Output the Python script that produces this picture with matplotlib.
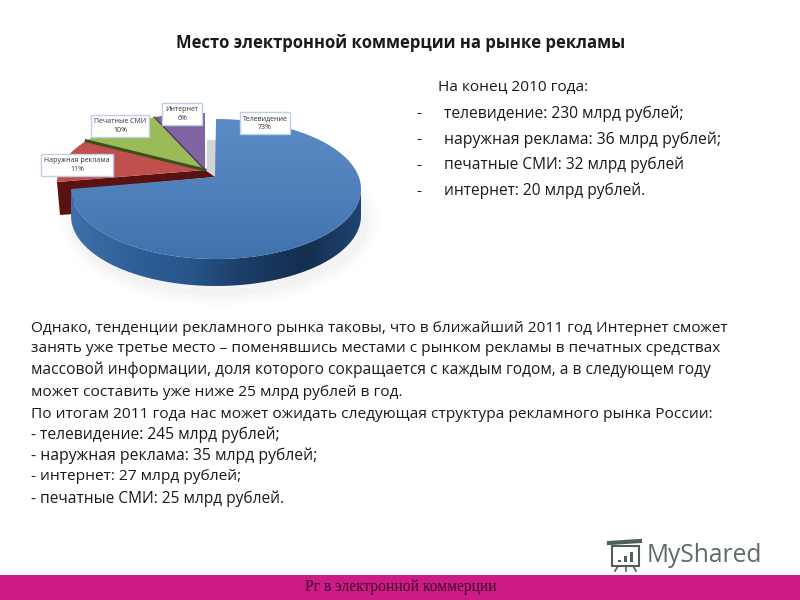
import numpy as np
import matplotlib
matplotlib.use("Agg")
from matplotlib import pyplot as plt
from matplotlib.colors import LinearSegmentedColormap
from matplotlib.patches import Polygon, Rectangle

plt.rcParams['font.family'] = ['Open Sans', 'DejaVu Sans']

# --- DATA ---
title = "Место электронной коммерции на рынке рекламы"
categories = ["Телевидение", "Наружная реклама", "Печатные СМИ", "Интернет"]
shares = [73, 11, 10, 6]
slice_tops = ['#5286c0', '#c0504d', '#9bbb59', '#8064a2']

head_line = "На конец 2010 года:"
list_lines = ["телевидение: 230 млрд рублей;",
              "наружная реклама: 36 млрд рублей;",
              "печатные СМИ: 32 млрд рублей",
              "интернет: 20 млрд рублей."]
list_y = [114, 140, 165, 191]
list_right = [684, 720, 684, 646]

body_lines = ["Однако, тенденции рекламного рынка таковы, что в ближайший 2011 год Интернет сможет",
              "занять уже третье место – поменявшись местами с рынком рекламы в печатных средствах",
              "массовой информации, доля которого сокращается с каждым годом, а в следующем году",
              "может составить уже ниже 25 млрд рублей в год.",
              "По итогам 2011 года нас может ожидать следующая структура рекламного рынка России:",
              "- телевидение: 245 млрд рублей;",
              "- наружная реклама: 35 млрд рублей;",
              "- интернет: 27 млрд рублей;",
              "- печатные СМИ: 25 млрд рублей."]
body_y = [328, 349, 370, 392, 415, 435, 456, 477, 499]
body_right = [723, 718, 709, 401, 708, 279, 315, 241, 284]

footer = "Рг в электронной коммерции"

fig = plt.figure(figsize=(8, 6), dpi=100)
ax = fig.add_axes([0, 0, 1, 1])
ax.set_xlim(0, 800)
ax.set_ylim(600, 0)
ax.axis('off')
renderer = fig.canvas.get_renderer()


def fit_text(x, y, s, right, size, **kw):
    # shrink or grow the font so the line ends where it should
    t = ax.text(x, y, s, fontsize=size, va='center', ha='left', color='#1a1a1a', **kw)
    w = t.get_window_extent(renderer).width
    t.set_fontsize(size * (right - x) / w)
    return t


def rim(cx, cy, rx, ry, t1, t2, n=80):
    t = np.radians(np.linspace(t1, t2, n))
    return np.column_stack([cx + rx * np.cos(t), cy + ry * np.sin(t)])


def gradient_fill(poly, colors, box, vertical=False):
    ax.add_patch(poly)
    grad = np.linspace(0, 1, 256).reshape(-1, 1) if vertical else np.linspace(0, 1, 256).reshape(1, -1)
    cmap = LinearSegmentedColormap.from_list('g', colors)
    im = ax.imshow(grad, extent=box, cmap=cmap, aspect='auto', zorder=poly.get_zorder())
    im.set_clip_path(poly)
    ax.set_xlim(0, 800)
    ax.set_ylim(600, 0)


# --- PIE ---
# screen angles grow clockwise because the y axis points down; 270 is the top
tv_span = 270.0
other_unit = 90.0 / sum(shares[1:])

big = dict(cx=216, cy=189, rx=145, ry=70)
small = dict(cx=205, cy=182, rx=148, ry=69)
big_apex = (215, 177)
small_apex = (205, 170)
depth = 27

# soft shadow under the pie
for grow, alpha in [(14, 0.02), (9, 0.03), (4, 0.04)]:
    ax.add_patch(Polygon(rim(220, 222, 145 + grow, 70 + grow, 0, 360),
                         fc='#808080', ec='none', alpha=alpha, zorder=1))
ax.add_patch(Rectangle((207, 140), 9, 38, fc='#d4d4d4', ec='none', zorder=1))

# other three slices, drawn from the left going up to the top
t_start = 180.0
for i in (1, 2, 3):
    t_end = t_start + shares[i] * other_unit
    pts = np.vstack([small_apex, rim(**small, t1=t_start, t2=t_end)])
    ax.add_patch(Polygon(pts, fc=slice_tops[i], ec='none', zorder=3))
    if i == 1:
        # cut face of the red slice, it fills the gap down to the blue slice
        p0 = pts[1]
        ax.add_patch(Polygon([p0, small_apex, big_apex, (74, 190), (74, 214), (60, 215)],
                             fc='#5a1210', ec='none', zorder=2))
    if i == 2:
        ax.plot([small_apex[0], pts[1][0]], [small_apex[1], pts[1][1]], color='#3d4f1c', lw=2.2, zorder=4)
    if i == 3:
        ax.plot([small_apex[0], pts[1][0]], [small_apex[1], pts[1][1]], color='#4a3a66', lw=1, zorder=4)
    t_start = t_end

# side of the blue slice
front = rim(**big, t1=0, t2=180)
side = np.vstack([front, front[::-1] + [0, depth]])
gradient_fill(Polygon(side, fc='none', ec='none', zorder=5),
              ['#3f70a8', '#2f6099', '#28568c', '#1b3d66', '#142f4f', '#1e4470'],
              (71, 362, 300, 180))

# top of the blue slice
t_end = 270 + tv_span * shares[0] / 73
top = np.vstack([big_apex, rim(**big, t1=270, t2=t_end, n=240)])
gradient_fill(Polygon(top, fc='none', ec='none', zorder=6),
              ['#5c8cc5', '#5384bd', '#4b7cb7', '#3f70ac'],
              (71, 362, 262, 118), vertical=True)

# slice labels
label_text = [f"{c}\n{s}%" for c, s in zip(categories, shares)]
label_xy = [(265, 123), (77, 165), (120, 126), (182, 114)]
for (lx, ly), s in zip(label_xy, label_text):
    ax.text(lx, ly, s, fontsize=5, ha='center', va='center', color='#333333', linespacing=1.3, zorder=8,
            bbox=dict(boxstyle='square,pad=0.42', fc='white', ec='#bcd0e6', lw=1))

# --- TEXT ---
fit_text(176, 43, title, 624, 12, fontweight='bold')
fit_text(438, 87, head_line, 588, 11)
for y, s, r in zip(list_y, list_lines, list_right):
    ax.text(416, y, "-", fontsize=11, va='center', color='#1a1a1a')
    fit_text(444, y, s, r, 11)
for y, s, r in zip(body_y, body_lines, body_right):
    fit_text(31, y, s, r, 11)

# --- FOOTER AND LOGO ---
ax.add_patch(Rectangle((0, 575), 800, 25, fc='#ce1a85', ec='none', zorder=2))
t = ax.text(305, 587, footer, fontsize=11, family='Liberation Serif', va='center', color='#3a0a30', zorder=3)
t.set_fontsize(11 * (497 - 305) / t.get_window_extent(renderer).width)

logo = '#4f5f5a'
ax.add_patch(Rectangle((612, 546), 27, 20, fc='white', ec=logo, lw=1.5, zorder=3))
ax.plot([609, 640], [543, 541], color=logo, lw=3, zorder=3)
ax.plot([618, 615], [566, 571], color=logo, lw=1.2)
ax.plot([626, 626], [566, 571], color=logo, lw=1.2)
ax.plot([633, 636], [566, 571], color=logo, lw=1.2)
ax.bar([619, 625, 631], [2, 6, 10], width=3, bottom=[562 - 2, 562 - 6, 562 - 10], color=logo, zorder=4)
t = ax.text(647, 555, "MyShared", fontsize=20, va='center', color='#5f6b68', zorder=3)
t.set_fontsize(20 * (762 - 647) / t.get_window_extent(renderer).width)

fig.savefig('out.png', dpi=100)
